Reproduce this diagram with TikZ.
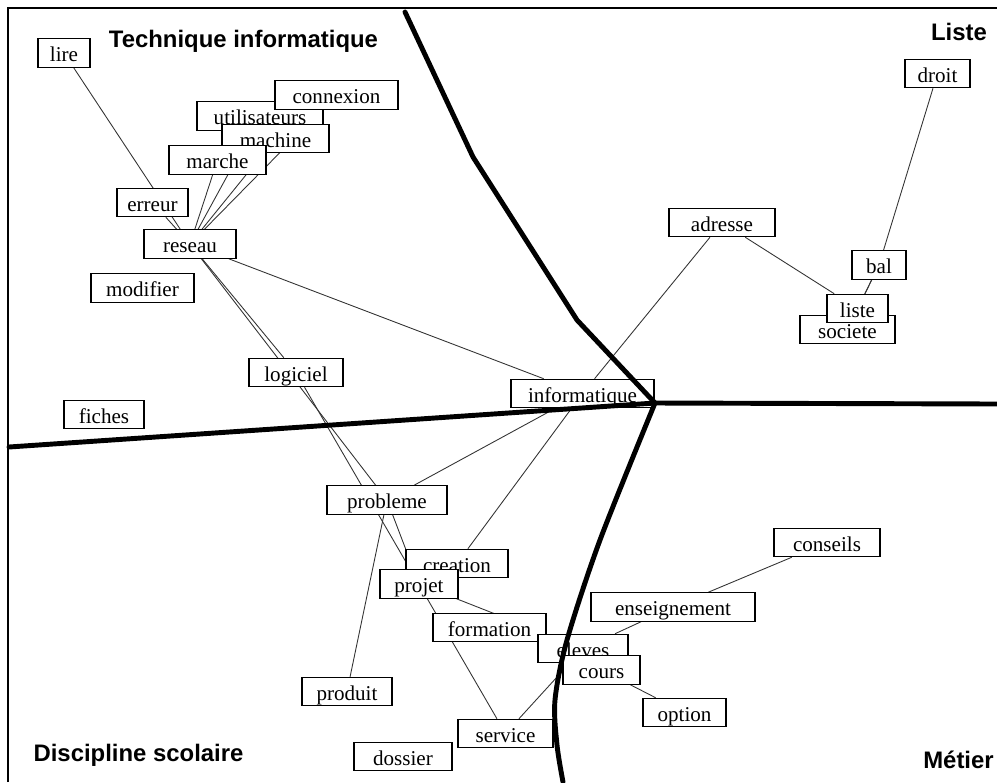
\documentclass[tikz,border=0pt]{standalone}
\usepackage{fontspec}
\setmainfont{Liberation Serif}
\newfontfamily\titrefont{Liberation Sans}
\usepackage{xcolor}
\definecolor{trait}{HTML}{333333}
\usepackage{tikz}
\pgfdeclarelayer{background}
\pgfsetlayers{background,main}

\tikzset{
  mot/.style={draw=black, fill=white, line width=0.6pt, minimum height=0.57cm, inner sep=0pt, text height=0.42cm, text depth=0.08cm, font=\fontsize{12}{14}\selectfont},
  lien/.style={draw=trait, line width=0.5pt},
  zone/.style={line width=2.8pt, line join=round, line cap=round},
  titre/.style={font=\titrefont\fontsize{13.6}{16}\selectfont\bfseries}
}

\begin{document}
\begin{tikzpicture}[x=0.02cm, y=-0.02cm]
  \useasboundingbox (0,0) rectangle (997,782);
  % cadre
  \draw[line width=1.3pt] (8,782) -- (8,8) -- (997,8);
  % mots
  \foreach \nom/\x/\y/\w in {lire/64/53/52, utilisateurs/260/116/126, connexion/336.5/95/123, machine/275.5/138.5/107, marche/217.5/160/97, erreur/152.5/202.5/71, reseau/190/244/92, modifier/142.5/288/103, fiches/104/414.5/80, logiciel/296/372.5/94, informatique/582.5/393.5/143, probleme/387/500/120, creation/457/563.5/102, projet/419/584/78, enseignement/673/607/164, formation/489.5/627.5/113, eleves/583/648.5/90, cours/601.5/670/77, option/684.5/712.5/83, produit/347/691.5/90, service/505.5/733.5/95, dossier/403/756.5/98, conseils/827/542.5/106, droit/937.5/73.5/65, adresse/722/222.5/106, bal/879/265/54, societe/847.5/329.5/95, liste/857.5/308.5/61} {
    \node[mot, minimum width=\w*0.02cm] (\nom) at (\x,\y) {\nom};
  }
  % liens
  \begin{pgfonlayer}{background}
    \foreach \a/\b in {reseau/lire, reseau/erreur, reseau/marche, reseau/utilisateurs, reseau/machine, reseau/connexion, reseau/logiciel, reseau/probleme, reseau/informatique, logiciel/service, probleme/projet, probleme/produit, probleme/informatique, creation/informatique, informatique/adresse, adresse/liste, bal/liste, bal/societe, droit/bal, projet/eleves, service/eleves, enseignement/eleves, enseignement/conseils, cours/option} {
      \draw[lien] (\a) -- (\b);
    }
  \end{pgfonlayer}
  % zones
  \coordinate (centre) at (655,403);
  \draw[zone] (405,12) -- (473,157) -- (577,320) -- (centre);
  \draw[zone] (9,447) -- (centre) -- (997,404);
  \draw[zone] plot[smooth] coordinates {(655,403) (600,540) (567,640) (555,700) (557,745) (563,782)};
  % titres
  \node[titre] (technique) at (243.5,41) {Technique informatique};
  \node[titre] (discipline) at (138.5,755) {Discipline scolaire};
  \node[titre] (liste-titre) at (959,32) {Liste};
  \node[titre] (metier) at (958.5,760) {Métier};
\end{tikzpicture}
\end{document}
